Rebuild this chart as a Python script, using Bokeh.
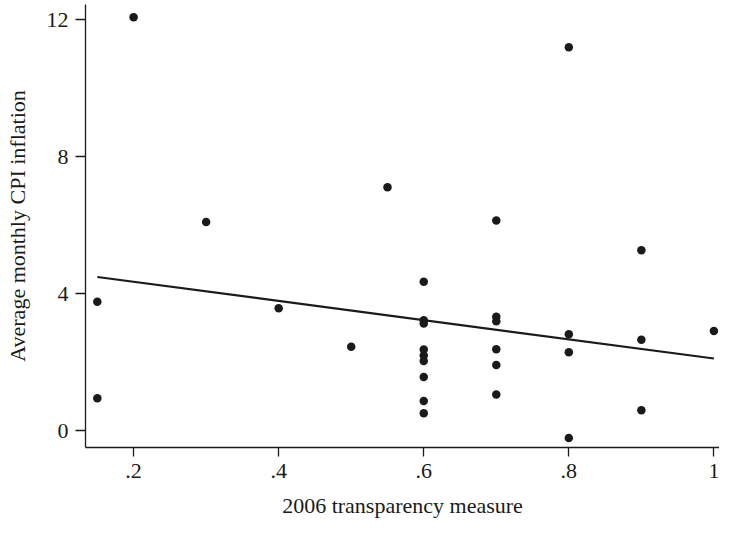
from bokeh.plotting import figure
from bokeh.models import FixedTicker, Range1d
from bokeh.embed import file_html
from bokeh.resources import INLINE

# --- data ---
transparency = [0.15, 0.15, 0.2, 0.3, 0.4, 0.5, 0.55,
                0.6, 0.6, 0.6, 0.6, 0.6, 0.6, 0.6, 0.6, 0.6,
                0.7, 0.7, 0.7, 0.7, 0.7, 0.7,
                0.8, 0.8, 0.8, 0.8,
                0.9, 0.9, 0.9,
                1.0]
inflation = [3.77, 0.95, 12.08, 6.10, 3.58, 2.45, 7.11,
             4.35, 3.23, 3.13, 2.37, 2.20, 2.04, 1.57, 0.87, 0.51,
             6.14, 3.33, 3.20, 2.38, 1.92, 1.06,
             11.20, 2.82, 2.29, -0.21,
             5.27, 2.66, 0.60,
             2.91]
fit_x = [0.15, 1.0]
fit_y = [4.49, 2.11]

x_ticks = [0.2, 0.4, 0.6, 0.8, 1]
x_tick_labels = [".2", ".4", ".6", ".8", "1"]
y_ticks = [0, 4, 8, 12]
y_tick_labels = ["0", "4", "8", "12"]

FONT = "Liberation Serif"
INK = "#1a1a1a"

p = figure(width=719, height=521, output_backend="svg", toolbar_location=None,
           x_range=Range1d(0.1337, 1.0077), y_range=Range1d(-0.49, 12.45),
           min_border_left=85, min_border_right=0, min_border_top=4,
           min_border_bottom=74)
p.outline_line_color = None
p.xgrid.visible = False
p.ygrid.visible = False
p.background_fill_color = "white"
p.border_fill_color = "white"

p.line(fit_x, fit_y, line_color=INK, line_width=2.2)
p.scatter(transparency, inflation, size=8.5, fill_color=INK, line_color=INK,
          line_width=0)

p.xaxis.ticker = FixedTicker(ticks=x_ticks)
p.xaxis.major_label_overrides = dict(zip(x_ticks, x_tick_labels))
p.yaxis.ticker = FixedTicker(ticks=y_ticks)
p.yaxis.major_label_overrides = dict(zip(y_ticks, y_tick_labels))

p.xaxis.axis_label = "2006 transparency measure"
p.yaxis.axis_label = "Average monthly CPI inflation"

for ax in (p.xaxis[0], p.yaxis[0]):
    ax.axis_line_color = INK
    ax.axis_line_width = 1.3
    ax.major_tick_line_color = INK
    ax.major_tick_line_width = 1.3
    ax.major_tick_in = 0
    ax.minor_tick_line_color = None
    ax.major_label_text_font = FONT
    ax.major_label_text_font_size = "22px"
    ax.major_label_text_color = INK
    ax.axis_label_text_font = FONT
    ax.axis_label_text_font_size = "22px"
    ax.axis_label_text_font_style = "normal"
    ax.axis_label_text_color = INK

p.yaxis.major_tick_out = 10
p.yaxis.major_label_standoff = 7
p.yaxis.axis_label_standoff = 14
p.xaxis.major_tick_out = 9
p.xaxis.major_label_standoff = 7
p.xaxis.axis_label_standoff = 12

open("out.html", "w").write(file_html(p, INLINE))
